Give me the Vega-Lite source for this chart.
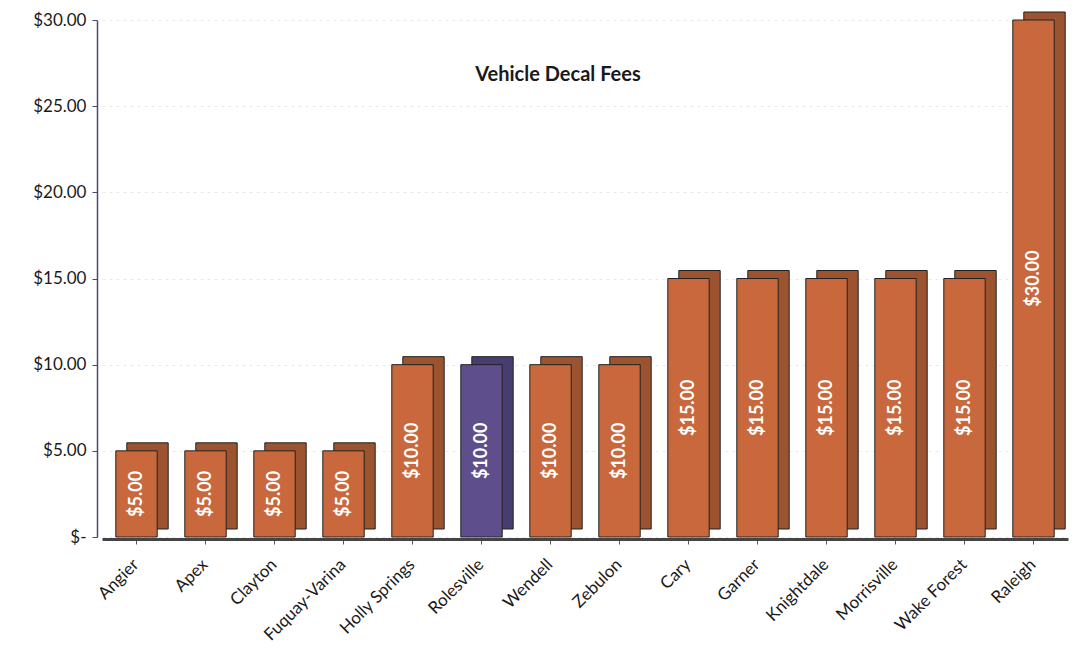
{
  "$schema": "https://vega.github.io/schema/vega-lite/v6.json",
  "width": 966,
  "height": 517,
  "autosize": "none",
  "padding": {"left": 102, "top": 20, "right": 10, "bottom": 127},
  "background": "white",
  "title": {"text": "Vehicle Decal Fees", "fontSize": 20, "font": "Lato", "fontWeight": "bold", "color": "#1a1a1a", "offset": -74, "anchor": "middle", "dx": -27},
  "data": {"values": [
    {"town": "Angier", "fee": 5, "group": "other"},
    {"town": "Apex", "fee": 5, "group": "other"},
    {"town": "Clayton", "fee": 5, "group": "other"},
    {"town": "Fuquay-Varina", "fee": 5, "group": "other"},
    {"town": "Holly Springs", "fee": 10, "group": "other"},
    {"town": "Rolesville", "fee": 10, "group": "highlight"},
    {"town": "Wendell", "fee": 10, "group": "other"},
    {"town": "Zebulon", "fee": 10, "group": "other"},
    {"town": "Cary", "fee": 15, "group": "other"},
    {"town": "Garner", "fee": 15, "group": "other"},
    {"town": "Knightdale", "fee": 15, "group": "other"},
    {"town": "Morrisville", "fee": 15, "group": "other"},
    {"town": "Wake Forest", "fee": 15, "group": "other"},
    {"town": "Raleigh", "fee": 30, "group": "other"}
  ]},
  "transform": [{"calculate": "datum.fee / 2", "as": "mid"}],
  "encoding": {
    "x": {"field": "town", "type": "nominal", "sort": null,
      "scale": {"paddingInner": 0.4, "paddingOuter": 0.2},
      "axis": {"title": null, "labelAngle": -45, "labelFont": "Lato", "labelFontSize": 17, "labelColor": "#1a1a1a", "domainColor": "#444", "domainWidth": 3, "tickColor": "#555", "tickSize": 5, "labelPadding": 12, "labelOffset": -6, "offset": 2}}
  },
  "layer": [
    {
      "mark": {"type": "bar", "xOffset": 11, "yOffset": -8, "stroke": "#222", "strokeWidth": 1},
      "encoding": {
        "y": {"field": "fee", "type": "quantitative",
          "scale": {"domain": [0, 30]},
          "axis": {"title": null, "values": [0, 5, 10, 15, 20, 25, 30], "labelExpr": "datum.value == 0 ? '$-' : format(datum.value, '$.2f')", "labelFont": "Lato", "labelFontSize": 17, "labelColor": "#1a1a1a", "offset": 5, "domainColor": "#4a4a70", "domainWidth": 1.5, "tickColor": "#4a4a70", "grid": true, "gridColor": "#e8e8e8", "gridDash": [3, 4], "labelPadding": 6}},
        "color": {"field": "group", "type": "nominal", "legend": null,
          "scale": {"domain": ["other", "highlight"], "range": ["#9c532f", "#483d70"]}}
      }
    },
    {
      "mark": {"type": "bar", "stroke": "#222", "strokeWidth": 1},
      "encoding": {
        "y": {"field": "fee", "type": "quantitative"},
        "fill": {"field": "group", "type": "nominal", "legend": null,
          "scale": {"domain": ["other", "highlight"], "range": ["#c8683c", "#5e4f8c"]}}
      }
    },
    {
      "mark": {"type": "text", "angle": 270, "color": "white", "font": "Lato", "fontSize": 18, "fontWeight": "bold", "align": "center", "baseline": "middle"},
      "encoding": {
        "y": {"field": "mid", "type": "quantitative"},
        "text": {"field": "fee", "type": "quantitative", "format": "$.2f"}
      }
    }
  ],
  "resolve": {"scale": {"color": "independent", "fill": "independent"}},
  "config": {"view": {"stroke": null}}
}
